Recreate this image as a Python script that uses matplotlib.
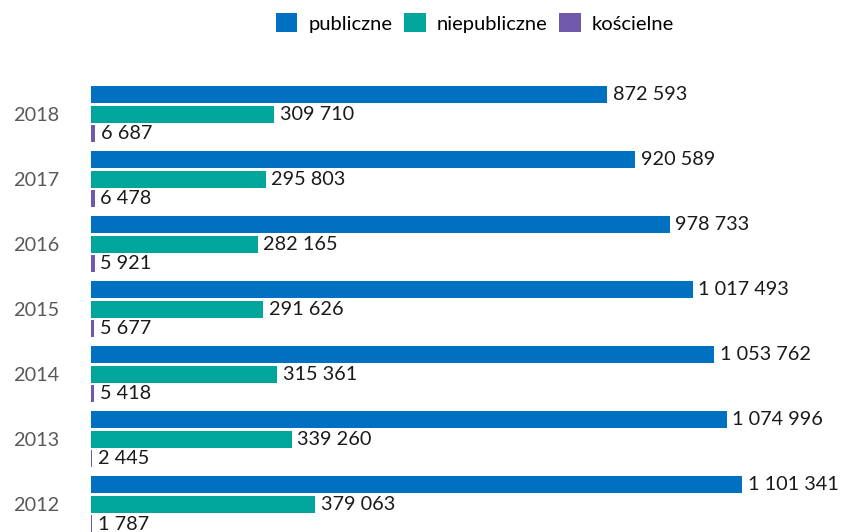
import matplotlib
matplotlib.use("Agg")
import matplotlib.pyplot as plt
from matplotlib.patches import Patch

years = ["2018", "2017", "2016", "2015", "2014", "2013", "2012"]
publiczne = [872593, 920589, 978733, 1017493, 1053762, 1074996, 1101341]
niepubliczne = [309710, 295803, 282165, 291626, 315361, 339260, 379063]
koscielne = [6687, 6478, 5921, 5677, 5418, 2445, 1787]
series_names = ["publiczne", "niepubliczne", "kościelne"]
colors = ["#0070C0", "#00A69C", "#7058AA"]

plt.rcParams['font.family'] = ['Lato', 'DejaVu Sans']

W, H = 843, 532
fig = plt.figure(figsize=(W / 100, H / 100), dpi=100)
left_px = 91
ax = fig.add_axes([left_px / W, 0, (W - left_px) / W, 1])

px_per_unit = 516 / 872593
ax.set_xlim(0, (W - left_px) / px_per_unit)
pitch = 65.0
ax.set_ylim((H - 114.5) / pitch, -114.5 / pitch)

bh = 17 / pitch
off = 19.5 / pitch
for i in range(len(years)):
    for j, (vals, c) in enumerate(zip([publiczne, niepubliczne, koscielne], colors)):
        y = i + (j - 1) * off
        ax.barh(y, vals[i], height=bh, color=c, edgecolor="none")
        label = f"{vals[i]:,}".replace(",", " ")
        ax.annotate(label, (vals[i], y), xytext=(4, 0), textcoords="offset points",
                    va="center", ha="left", fontsize=14.3, color="#1a1a1a")

ax.set_yticks(range(len(years)))
ax.set_yticklabels(years, fontsize=14.3, color="#595959")
ax.tick_params(axis="y", length=0, pad=23)
ax.set_xticks([])
for s in ax.spines.values():
    s.set_visible(False)

handles = [Patch(facecolor=c, edgecolor="none") for c in colors]
fig.legend(handles, series_names, loc="center", bbox_to_anchor=(475 / W, 1 - 23 / H),
           ncol=3, frameon=False, fontsize=14.5, handlelength=1.05, handleheight=1.05,
           handletextpad=0.55, columnspacing=0.6)

fig.savefig("out.png", dpi=100)
